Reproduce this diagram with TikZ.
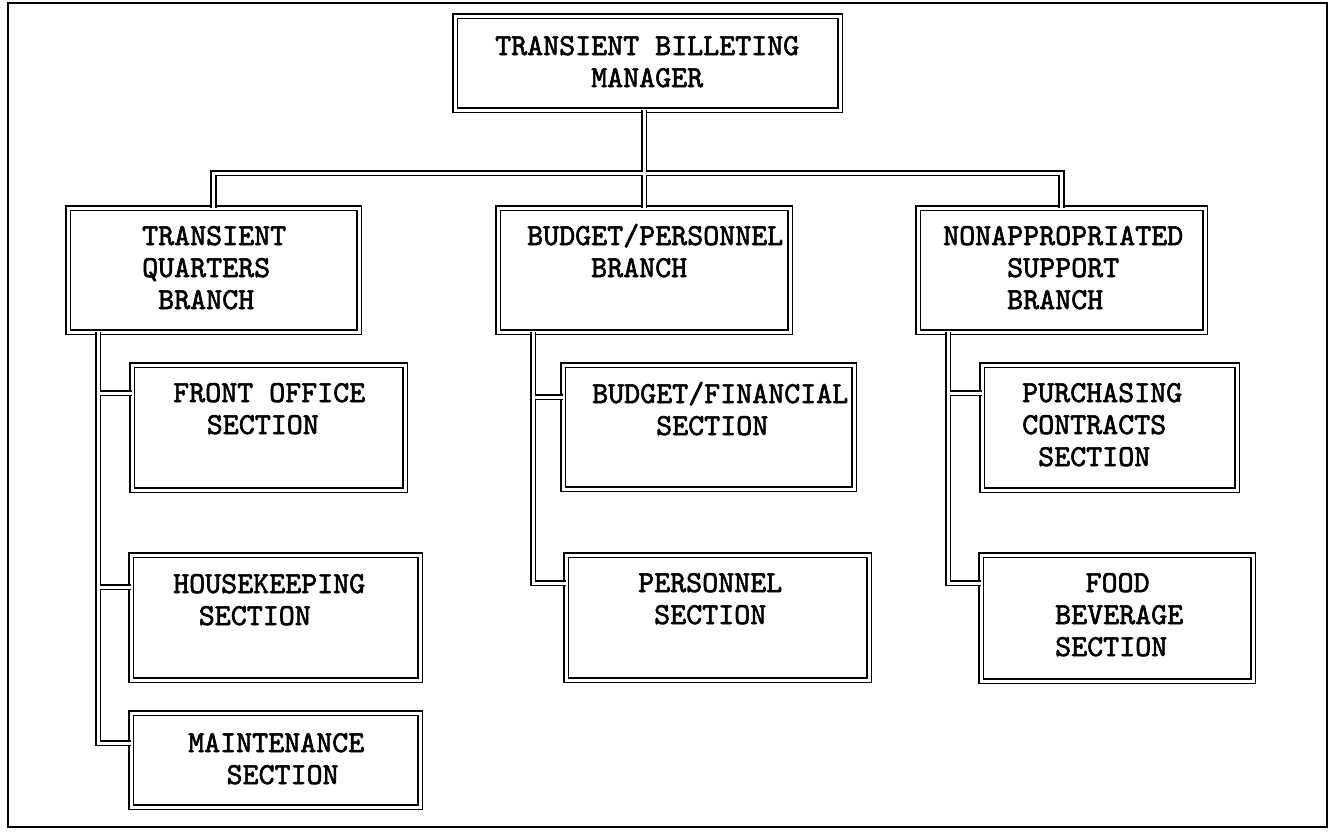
\documentclass[tikz,border=0pt]{standalone}
\usepackage{fontspec}
\newfontfamily\lblfont{lmmono10-regular.otf}[FakeBold=2]
\usetikzlibrary{calc}
\newlength\cwd
\setlength\cwd{16pt}
\newcommand\indt[1]{\hspace*{#1\cwd}}
\begin{document}
\begin{tikzpicture}[x=1pt,y=-1pt,
  box/.style={draw, double, double distance=3pt, line width=1.9pt, rectangle, inner sep=0pt, outer sep=0pt},
  conn/.style={draw, double, double distance=3pt, line width=1.9pt},
  lbl/.style={font=\lblfont\fontsize{30.48}{32}\selectfont, align=left, inner sep=0pt, anchor=base west},
  frame/.style={draw, line width=2.2pt}
]
\useasboundingbox (0,0) rectangle (1330,836);
\draw[frame] (8,3) rectangle (1327,827);

% boxes
\node[box, minimum width=385pt, minimum height=94pt]  (tbm) at (647.5,63) {};
\node[box, minimum width=291pt, minimum height=124pt] (tqb) at (213.5,270) {};
\node[box, minimum width=292pt, minimum height=124pt] (bpb) at (644,270) {};
\node[box, minimum width=287pt, minimum height=124pt] (nsb) at (1061.5,270) {};
\node[box, minimum width=273pt, minimum height=125pt] (fo)  at (268.5,427.5) {};
\node[box, minimum width=289pt, minimum height=125pt] (hk)  at (275.5,617.5) {};
\node[box, minimum width=289pt, minimum height=94pt]  (mt)  at (275.5,760) {};
\node[box, minimum width=291pt, minimum height=124pt] (bf)  at (708.5,427) {};
\node[box, minimum width=303pt, minimum height=125pt] (pe)  at (717.5,617.5) {};
\node[box, minimum width=255pt, minimum height=125pt] (pc)  at (1109.5,427.5) {};
\node[box, minimum width=272pt, minimum height=126pt] (fb)  at (1117,618) {};

% labels (anchored at the baseline of their last line)
\node[lbl] (tbm-t) at (495,87)  {TRANSIENT BILLETING\\\indt{6}MANAGER};
\node[lbl] (tqb-t) at (142,309) {TRANSIENT\\QUARTERS\\\indt{1}BRANCH};
\node[lbl] (bpb-t) at (527,277) {BUDGET/PERSONNEL\\\indt{4}BRANCH};
\node[lbl] (nsb-t) at (943,309) {NONAPPROPRIATED\\\indt{4}SUPPORT\\\indt{4}BRANCH};
\node[lbl] (fo-t)  at (173,434) {FRONT OFFICE\\\indt{2.1}SECTION};
\node[lbl] (hk-t)  at (173,625) {HOUSEKEEPING\\\indt{1.6}SECTION};
\node[lbl] (mt-t)  at (188,784) {MAINTENANCE\\\indt{2.4}SECTION};
\node[lbl] (bf-t)  at (592,435) {BUDGET/FINANCIAL\\\indt{4}SECTION};
\node[lbl] (pe-t)  at (638,624) {PERSONNEL\\\indt{1}SECTION};
\node[lbl] (pc-t)  at (1022,466) {PURCHASING\\CONTRACTS\\\indt{1}SECTION};
\node[lbl] (fb-t)  at (1055,656) {\indt{1.9}FOOD\\BEVERAGE\\SECTION};

% connector helper points
\coordinate (bus) at (644,173);
\coordinate (tqbd) at ($(tqb.south west)+(30,0)$);
\coordinate (bpbd) at ($(bpb.south west)+(35,0)$);
\coordinate (nsbd) at ($(nsb.south west)+(30,0)$);
\coordinate (fo-in) at ($(fo.north west)+(0,28)$);
\coordinate (hk-in) at ($(hk.north west)+(0,32)$);
\coordinate (mt-in) at ($(mt.north west)+(0,30)$);
\coordinate (bf-in) at ($(bf.north west)+(0,32)$);
\coordinate (pe-in) at ($(pe.north west)+(0,28)$);
\coordinate (pc-in) at ($(pc.north west)+(0,28)$);
\coordinate (fb-in) at ($(fb.north west)+(0,28)$);

% top tree
\draw[conn] (tbm.south -| bpb.north) -- (bpb.north)
  (tqb.north) |- (bus) -| (nsb.north);

% left column
\draw[conn] (tqbd) |- (mt-in)
  (fo-in) -- (fo-in -| tqbd)
  (hk-in) -- (hk-in -| tqbd);
% middle column
\draw[conn] (bpbd) |- (pe-in)
  (bf-in) -- (bf-in -| bpbd);
% right column
\draw[conn] (nsbd) |- (fb-in)
  (pc-in) -- (pc-in -| nsbd);
\end{tikzpicture}
\end{document}
